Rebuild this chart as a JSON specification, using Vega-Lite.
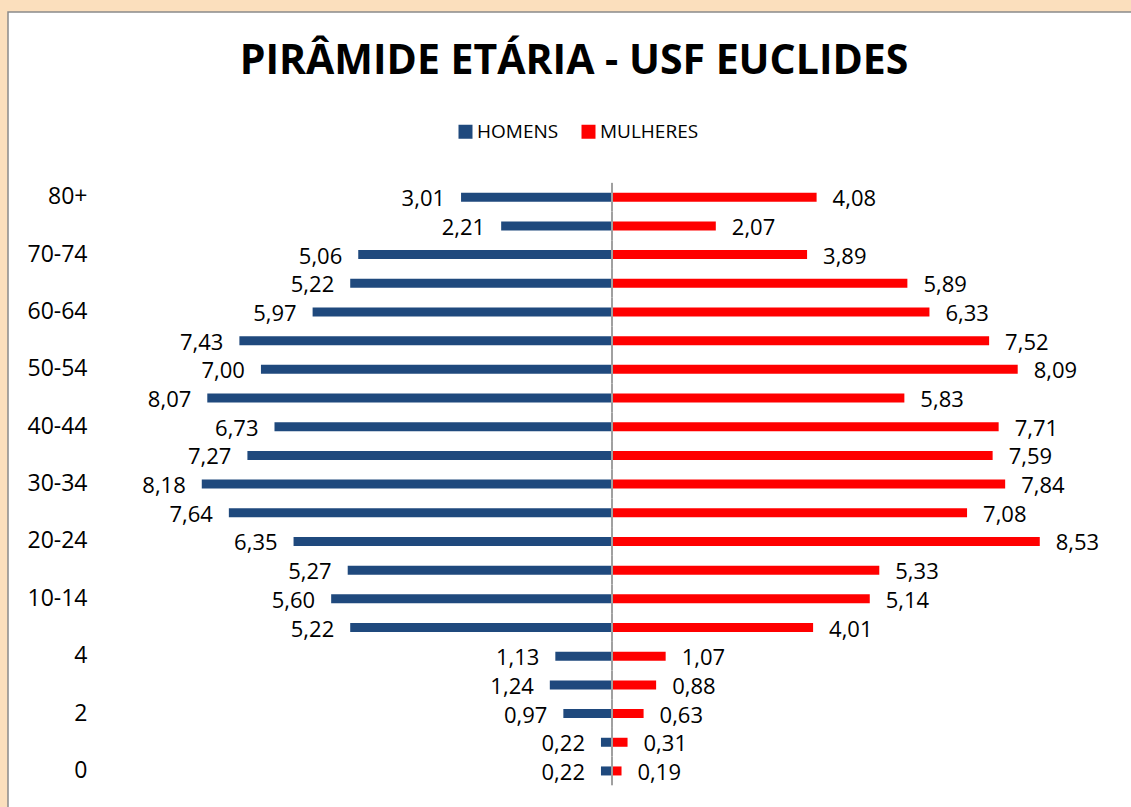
{
  "$schema": "https://vega.github.io/schema/vega-lite/v6.json",
  "width": 1126,
  "height": 798,
  "autosize": {"type": "none"},
  "padding": {"left": 8, "top": 12, "right": 0, "bottom": 0},
  "background": "#fbdfbd",
  "config": {
    "view": {"fill": "white", "stroke": "#8a8a8a", "strokeWidth": 1.5},
    "font": "Open Sans",
    "locale": {"number": {"decimal": ",", "thousands": ".", "grouping": [3], "currency": ["R$", ""]}}
  },
  "title": {
    "text": "PIRÂMIDE ETÁRIA - USF EUCLIDES",
    "font": "Open Sans",
    "fontSize": 41,
    "fontWeight": "bold",
    "color": "black",
    "anchor": "middle",
    "offset": -71,
    "dx": 3
  },
  "data": {
    "values": [
      {"idade": "80+", "sexo": "HOMENS", "pct": 3.01},
      {"idade": "75-79", "sexo": "HOMENS", "pct": 2.21},
      {"idade": "70-74", "sexo": "HOMENS", "pct": 5.06},
      {"idade": "65-69", "sexo": "HOMENS", "pct": 5.22},
      {"idade": "60-64", "sexo": "HOMENS", "pct": 5.97},
      {"idade": "55-59", "sexo": "HOMENS", "pct": 7.43},
      {"idade": "50-54", "sexo": "HOMENS", "pct": 7.00},
      {"idade": "45-49", "sexo": "HOMENS", "pct": 8.07},
      {"idade": "40-44", "sexo": "HOMENS", "pct": 6.73},
      {"idade": "35-39", "sexo": "HOMENS", "pct": 7.27},
      {"idade": "30-34", "sexo": "HOMENS", "pct": 8.18},
      {"idade": "25-29", "sexo": "HOMENS", "pct": 7.64},
      {"idade": "20-24", "sexo": "HOMENS", "pct": 6.35},
      {"idade": "15-19", "sexo": "HOMENS", "pct": 5.27},
      {"idade": "10-14", "sexo": "HOMENS", "pct": 5.60},
      {"idade": "5-9", "sexo": "HOMENS", "pct": 5.22},
      {"idade": "4", "sexo": "HOMENS", "pct": 1.13},
      {"idade": "3", "sexo": "HOMENS", "pct": 1.24},
      {"idade": "2", "sexo": "HOMENS", "pct": 0.97},
      {"idade": "1", "sexo": "HOMENS", "pct": 0.22},
      {"idade": "0", "sexo": "HOMENS", "pct": 0.22},
      {"idade": "80+", "sexo": "MULHERES", "pct": 4.08},
      {"idade": "75-79", "sexo": "MULHERES", "pct": 2.07},
      {"idade": "70-74", "sexo": "MULHERES", "pct": 3.89},
      {"idade": "65-69", "sexo": "MULHERES", "pct": 5.89},
      {"idade": "60-64", "sexo": "MULHERES", "pct": 6.33},
      {"idade": "55-59", "sexo": "MULHERES", "pct": 7.52},
      {"idade": "50-54", "sexo": "MULHERES", "pct": 8.09},
      {"idade": "45-49", "sexo": "MULHERES", "pct": 5.83},
      {"idade": "40-44", "sexo": "MULHERES", "pct": 7.71},
      {"idade": "35-39", "sexo": "MULHERES", "pct": 7.59},
      {"idade": "30-34", "sexo": "MULHERES", "pct": 7.84},
      {"idade": "25-29", "sexo": "MULHERES", "pct": 7.08},
      {"idade": "20-24", "sexo": "MULHERES", "pct": 8.53},
      {"idade": "15-19", "sexo": "MULHERES", "pct": 5.33},
      {"idade": "10-14", "sexo": "MULHERES", "pct": 5.14},
      {"idade": "5-9", "sexo": "MULHERES", "pct": 4.01},
      {"idade": "4", "sexo": "MULHERES", "pct": 1.07},
      {"idade": "3", "sexo": "MULHERES", "pct": 0.88},
      {"idade": "2", "sexo": "MULHERES", "pct": 0.63},
      {"idade": "1", "sexo": "MULHERES", "pct": 0.31},
      {"idade": "0", "sexo": "MULHERES", "pct": 0.19}
    ]
  },
  "transform": [
    {"calculate": "datum.sexo === 'HOMENS' ? -datum.pct : datum.pct", "as": "xval"}
  ],
  "encoding": {
    "y": {
      "field": "idade",
      "type": "nominal",
      "scale": {
        "domain": ["80+", "75-79", "70-74", "65-69", "60-64", "55-59", "50-54", "45-49", "40-44", "35-39", "30-34", "25-29", "20-24", "15-19", "10-14", "5-9", "4", "3", "2", "1", "0"],
        "range": [170.85, 773.3],
        "paddingInner": 0,
        "paddingOuter": 0
      },
      "axis": {
        "title": null,
        "orient": "left",
        "offset": -79,
        "domain": false,
        "ticks": false,
        "grid": false,
        "labelPadding": 0,
        "labelFont": "Open Sans",
        "labelFontSize": 23,
        "labelColor": "black",
        "values": ["80+", "70-74", "60-64", "50-54", "40-44", "30-34", "20-24", "10-14", "4", "2", "0"]
      }
    }
  },
  "layer": [
    {
      "mark": {"type": "bar", "height": {"band": 0.314}},
      "encoding": {
        "x": {
          "field": "xval",
          "type": "quantitative",
          "scale": {"domain": [-12.044, 10.409], "nice": false, "zero": false},
          "axis": null
        },
        "color": {
          "field": "sexo",
          "type": "nominal",
          "scale": {"domain": ["HOMENS", "MULHERES"], "range": ["#1f497d", "#ff0000"]},
          "legend": {
            "title": null,
            "orient": "none",
            "legendX": 448,
            "legendY": 110,
            "direction": "horizontal",
            "symbolType": "square",
            "symbolSize": 196,
            "symbolStrokeWidth": 0,
            "labelFont": "Open Sans",
            "labelFontSize": 19,
            "labelColor": "black",
            "labelOffset": 2,
            "columnPadding": 20
          }
        }
      }
    },
    {
      "transform": [{"filter": "datum.sexo === 'HOMENS'"}],
      "mark": {"type": "bar", "color": "#a0a0a0"},
      "encoding": {
        "x": {"datum": -0.02, "type": "quantitative"},
        "x2": {"datum": 0.02}
      }
    },
    {
      "transform": [{"filter": "datum.sexo === 'HOMENS'"}],
      "mark": {"type": "text", "align": "right", "baseline": "middle", "dx": -16, "dy": 2, "font": "Open Sans", "fontSize": 22, "color": "black"},
      "encoding": {
        "x": {"field": "xval", "type": "quantitative"},
        "text": {"field": "pct", "type": "quantitative", "format": ".2f"}
      }
    },
    {
      "transform": [{"filter": "datum.sexo === 'MULHERES'"}],
      "mark": {"type": "text", "align": "left", "baseline": "middle", "dx": 16, "dy": 2, "font": "Open Sans", "fontSize": 22, "color": "black"},
      "encoding": {
        "x": {"field": "xval", "type": "quantitative"},
        "text": {"field": "pct", "type": "quantitative", "format": ".2f"}
      }
    }
  ]
}
